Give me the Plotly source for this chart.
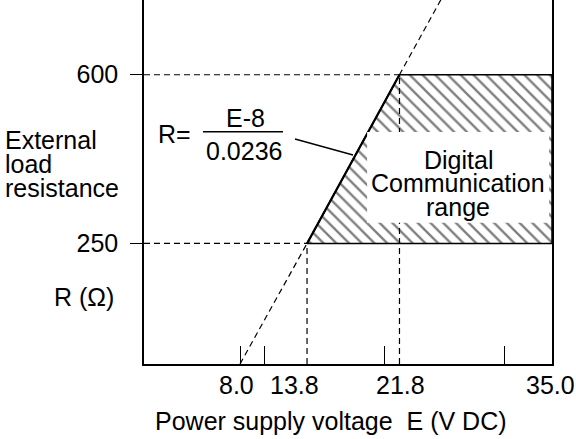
import plotly.graph_objects as go

# ---- data ----
E_zero = 8.0                                   # E where R = 0
E_min, E_max = 13.8, 21.8                      # supply voltage range (V DC)
E_right = 35.0
R_low, R_high = 250, 600                       # load resistance (ohm)
xtick_vals = [8.0, 13.8, 21.8, 35.0]
xtick_text = ["8.0", "13.8", "21.8", "35.0"]
xtick_marks = [8.0, 10.1, 20.5, 30.9]          # unlabeled tick marks
ytick_vals = [250, 600]
ytick_text = ["250", "600"]
# load line R = (E-8)/0.0236 as drawn
line_E = [8.0, 13.8, 21.8, 25.6]
line_R = [0, 250, 600, 765]

X_RANGE = [-0.31, 35.0]
Y_RANGE = [0, 755]
FONT = "Liberation Sans, Arial, Helvetica, sans-serif"
FS = 25
xlabel_shift = [-4, -13, 1.5, -2]              # pixel nudges of the x labels

fig = go.Figure()

# hatched region
fig.add_trace(go.Scatter(
    x=[E_min, E_max, E_right, E_right, E_min],
    y=[R_low, R_high, R_high, R_low, R_low],
    mode="lines", fill="toself", fillcolor="white",
    fillpattern=dict(shape="\\", fgcolor="black", bgcolor="white", size=9, solidity=0.26),
    line=dict(color="black", width=1.5), hoverinfo="skip", showlegend=False))

# solid slanted edge
fig.add_trace(go.Scatter(x=[E_min, E_max], y=[R_low, R_high], mode="lines",
                         line=dict(color="black", width=2.2), showlegend=False))

dash = dict(color="black", width=1.2, dash="6px,4px")
# dashed load line
fig.add_trace(go.Scatter(x=line_E, y=line_R, mode="lines", line=dash, showlegend=False))
# dashed guides
fig.add_trace(go.Scatter(x=[X_RANGE[0], E_max], y=[R_high, R_high], mode="lines", line=dash, showlegend=False))
fig.add_trace(go.Scatter(x=[X_RANGE[0], E_min], y=[R_low, R_low], mode="lines", line=dash, showlegend=False))
fig.add_trace(go.Scatter(x=[E_min, E_min], y=[0, R_low], mode="lines", line=dash, showlegend=False))
fig.add_trace(go.Scatter(x=[E_max, E_max], y=[0, R_high], mode="lines", line=dash, showlegend=False))

W, H = 576, 439
ML, MR, MT, MB = 144, 24, 0, 75
PW, PH = W - ML - MR, H - MT - MB

def px(x):
    return (x - ML) / PW

def py(y):
    return 1 - (y - MT) / PH

shapes = [
    # white box for the label
    dict(type="rect", xref="x", yref="y", x0=19.0, x1=34.75, y0=293, y1=481,
         fillcolor="white", line=dict(width=0), layer="above"),
    # fraction bar
    dict(type="line", xref="paper", yref="paper", x0=px(203), x1=px(283), y0=py(131.7), y1=py(131.7),
         line=dict(color="black", width=1.5)),
    # pointer
    dict(type="line", xref="paper", yref="paper", x0=px(295), y0=py(139), x1=px(353), y1=py(155),
         line=dict(color="black", width=1.3)),
]

def ann(text, x, y, xanchor="center"):
    return dict(text=text, xref="paper", yref="paper", x=px(x), y=py(y), xanchor=xanchor,
                yanchor="middle", showarrow=False, font=dict(family=FONT, size=FS, color="black"))

annotations = [
    ann("External", 3, 140, "left"),
    ann("load", 3, 164, "left"),
    ann("resistance", 3, 188, "left"),
    ann("R (Ω)", 51.7, 296.5, "left"),
    ann("R=", 193, 134, "right"),
    ann("E-8", 245, 118.4),
    ann("0.0236", 244, 150.5),
    ann("Digital", 458, 160),
    ann("Communication", 458, 183),
    ann("range", 458, 206.5),
    ann("Power supply voltage  E (V DC)", 153, 421, "left"),
]
for v, t, s in zip(xtick_vals, xtick_text, xlabel_shift):
    annotations.append(dict(text=t, xref="x", yref="paper", x=v, y=py(384.5), xshift=s,
                            xanchor="center", yanchor="middle", showarrow=False,
                            font=dict(family=FONT, size=FS, color="black")))

fig.update_layout(
    width=W, height=H, margin=dict(l=ML, r=MR, t=MT, b=MB, pad=0),
    paper_bgcolor="white", plot_bgcolor="white",
    font=dict(family=FONT, size=FS, color="black"),
    shapes=shapes, annotations=annotations, showlegend=False,
    xaxis=dict(range=X_RANGE, showgrid=False, zeroline=False, showline=True, linecolor="black",
               linewidth=1.5, tickmode="array", tickvals=xtick_marks, showticklabels=False,
               ticks="inside", ticklen=18, tickcolor="black", tickwidth=1.3),
    yaxis=dict(range=Y_RANGE, showgrid=False, zeroline=False, showline=True, mirror=True,
               linecolor="black", linewidth=1.5, tickmode="array", tickvals=ytick_vals,
               ticktext=ytick_text, ticks="outside", ticklen=12, tickcolor="black", tickwidth=1.3,
               ticklabelstandoff=7, tickfont=dict(family=FONT, size=FS, color="black")),
)

fig.write_html("out.html", config={"displayModeBar": False},
               post_script="document.body.style.margin='0';document.body.style.overflow='hidden';")
